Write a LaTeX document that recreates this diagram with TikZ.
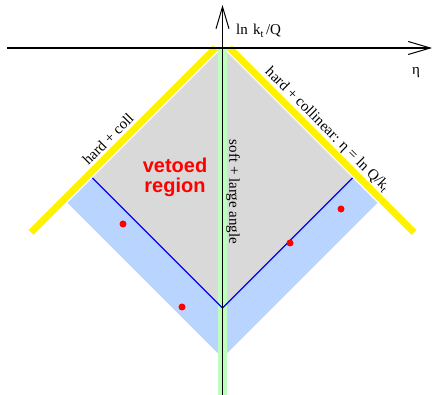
\documentclass[tikz,border=0pt]{standalone}
\usepackage{fontspec}
\setmainfont{Liberation Serif}
\setsansfont{Liberation Sans}
\usetikzlibrary{arrows.meta}
\definecolor{vetogray}{RGB}{217,217,217}
\definecolor{ltblue}{RGB}{185,213,255}
\definecolor{ltgreen}{RGB}{190,255,190}
\newcommand\lowsub[1]{\raisebox{-0.35ex}{\fontsize{10.5}{11}\selectfont #1}}
\tikzset{
  axis/.style={line width=1.3pt, -{Straight Barb[length=22pt,width=13pt,line width=1pt]}},
  lbl/.style={font=\fontsize{15}{18}\selectfont, inner sep=0pt},
  veto/.style={font=\fontsize{20}{20}\selectfont\sffamily\bfseries, text=red, inner sep=0pt},
  yellowline/.style={yellow, line width=7pt},
  dot/.style={circle, fill=red, inner sep=0pt, minimum size=7pt},
}
\begin{document}
\begin{tikzpicture}[x=1pt,y=-1pt]
\useasboundingbox (0,0) rectangle (437,395);
\coordinate (apex) at (222.5,48);
\coordinate (gl) at (92.5,178);
\coordinate (gb) at (222.5,308);
\coordinate (gr) at (352.5,178);
\coordinate (bl) at (67.5,203);
\coordinate (bb) at (222.5,358);
\coordinate (br) at (377.5,203);
\fill[ltblue] (apex) -- (bl) -- (bb) -- (br) -- cycle;
\fill[vetogray] (apex) -- (gl) -- (gb) -- (gr) -- cycle;
\fill[ltgreen] (218,48) rectangle (227,395);
\draw[blue, line width=1.4pt] (gl) -- (gb) -- (gr);
\coordinate (yl1) at (215.5,48);
\coordinate (yl2) at (31,232.5);
\coordinate (yr1) at (229.5,48);
\coordinate (yr2) at (414,232.5);
\draw[yellowline] (yl1) -- (yl2);
\draw[yellowline] (yr1) -- (yr2);
\coordinate (xs) at (7,48);
\coordinate (xe) at (432,48);
\coordinate (ys) at (222.5,395);
\coordinate (ye) at (222.5,5);
\draw[axis] (xs) -- (xe);
\draw[axis] (ys) -- (ye);
\node[lbl, anchor=base west] (ylab) at (236,35) {ln\hspace{1.5pt} k\lowsub{t}\hspace{2.5pt}/Q};
\node[lbl] (xlab) at (416,73) {η};
\node[lbl, rotate=45] (hc) at (108,139) {hard + coll};
\node[lbl, rotate=-45] (hcl) at (327,130) {hard + collinear: η = ln Q/k\lowsub{t}};
\node[lbl, rotate=-90] (soft) at (233,192) {soft + large angle};
\node[veto, anchor=base] (v1) at (175,173) {vetoed};
\node[veto, anchor=base] (v2) at (175,193) {region};
\node[dot] (d1) at (123,224) {};
\node[dot] (d2) at (182,307) {};
\node[dot] (d3) at (290,243) {};
\node[dot] (d4) at (341,209) {};
\end{tikzpicture}
\end{document}
